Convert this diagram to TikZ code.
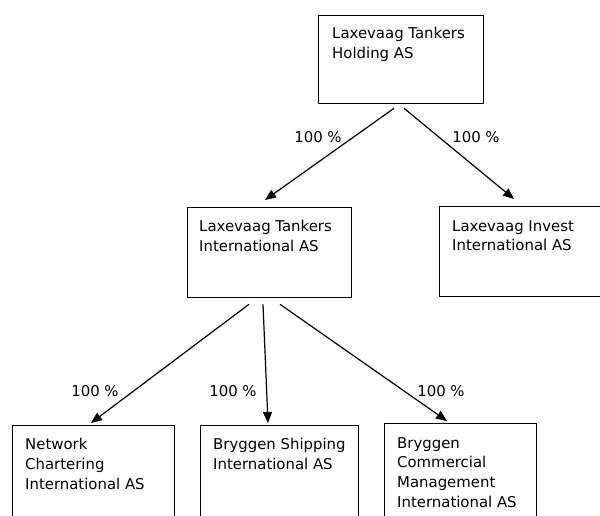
\documentclass[tikz,border=0pt]{standalone}
\usepackage{fontspec}
\setmainfont{DejaVu Sans}
\usetikzlibrary{arrows.meta,calc}
\tikzset{
  box/.style={draw=black, line width=1.3bp, inner sep=0pt, anchor=north west},
  btext/.style={anchor=north west, inner sep=0pt, align=left, font=\fontsize{14.9bp}{19.8bp}\selectfont},
  pct/.style={inner sep=0pt, font=\fontsize{14.9bp}{20bp}\selectfont},
  conn/.style={line width=1.2bp, -{Triangle[length=11bp,width=9bp]}}
}
\begin{document}
\begin{tikzpicture}[x=1bp,y=-1bp]
\useasboundingbox (0,0) rectangle (600,516);
\clip (0,0) rectangle (600,516);
\fill[white] (0,0) rectangle (600,516);
% boxes
\node[box, minimum width=165bp, minimum height=88bp] (b1) at (318,15) {};
\node[box, minimum width=164bp, minimum height=90bp] (b2) at (187,207) {};
\node[box, minimum width=175bp, minimum height=90bp] (b3) at (439,206) {};
\node[box, minimum width=162bp, minimum height=110bp] (b4) at (12,425) {};
\node[box, minimum width=158bp, minimum height=110bp] (b5) at (200,425) {};
\node[box, minimum width=152bp, minimum height=112bp] (b6) at (384,423) {};
% texts
\node[btext] (t1) at (332,27) {Laxevaag Tankers\\Holding AS};
\node[btext] (t2) at (199,220) {Laxevaag Tankers\\International AS};
\node[btext] (t3) at (452,220) {Laxevaag Invest\\International AS};
\node[btext] (t4) at (25,438) {Network\\Chartering\\International AS};
\node[btext] (t5) at (213,438) {Bryggen Shipping\\International AS};
\node[btext] (t6) at (397,437) {Bryggen\\Commercial\\Management\\International AS};
% connectors
\draw[conn] ([shift={(76,4)}]b1.south west) -- ([shift={(78,-7)}]b2.north west);
\draw[conn] ([shift={(86,4)}]b1.south west) -- ([shift={(75,-7)}]b3.north west);
\draw[conn] ([shift={(62,6)}]b2.south west) -- ([shift={(79,-2)}]b4.north west);
\draw[conn] ([shift={(76,6)}]b2.south west) -- ([shift={(68,-2)}]b5.north west);
\draw[conn] ([shift={(93,6)}]b2.south west) -- ([shift={(63,-2)}]b6.north west);
% labels
\node[pct] (l1) at (318,137) {100 \%};
\node[pct] (l2) at (476,137) {100 \%};
\node[pct] (l3) at (95,391) {100 \%};
\node[pct] (l4) at (233,391) {100 \%};
\node[pct] (l5) at (441,391) {100 \%};
\end{tikzpicture}
\end{document}
